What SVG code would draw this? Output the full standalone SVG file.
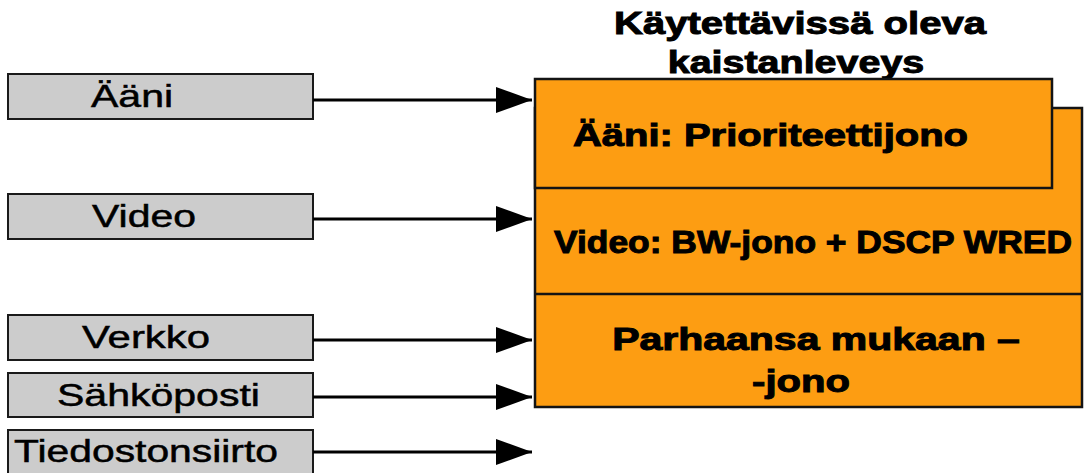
<svg xmlns="http://www.w3.org/2000/svg" width="1084" height="473" viewBox="0 0 1084 473">
<style>
.src{fill:#cccccc;stroke:#1a1a1a;stroke-width:2}
.q{fill:#fd9d12;stroke:#141414;stroke-width:2.5}
.lt{font-family:"Liberation Sans",Arial,sans-serif;font-size:32px;fill:#000;stroke:#000;stroke-width:0.5}
.bt{font-family:"Liberation Sans",Arial,sans-serif;font-size:31px;font-weight:bold;fill:#000;stroke:#000;stroke-width:1}
.ln{stroke:#000;stroke-width:3;fill:none}
</style>
<defs>
<marker id="ah" viewBox="0 0 36 26" refX="36" refY="13" markerWidth="36" markerHeight="26" markerUnits="userSpaceOnUse" orient="auto">
<path d="M0,0 L36,13 L0,26 Z" fill="#000"/>
</marker>
</defs>
<g id="title">
<text class="bt" style="font-size:32px" transform="translate(800,34) scale(1.27,1)" text-anchor="middle" textLength="293" lengthAdjust="spacingAndGlyphs">Käytettävissä oleva</text>
<text class="bt" style="font-size:32px" transform="translate(796,73) scale(1.27,1)" text-anchor="middle" textLength="202" lengthAdjust="spacingAndGlyphs">kaistanleveys</text>
</g>
<g id="queues">
<rect class="q" x="535" y="108" width="547" height="299"/>
<line x1="535" y1="294" x2="1082" y2="294" stroke="#141414" stroke-width="2.5"/>
<rect class="q" x="535" y="79" width="517" height="109"/>
<text class="bt" transform="translate(573,146) scale(1.27,1)" textLength="311" lengthAdjust="spacingAndGlyphs">Ääni: Prioriteettijono</text>
<text class="bt" x="554" y="253" textLength="518" lengthAdjust="spacingAndGlyphs">Video: BW-jono + DSCP WRED</text>
<text class="bt" transform="translate(816,350) scale(1.27,1)" text-anchor="middle" textLength="321" lengthAdjust="spacingAndGlyphs">Parhaansa mukaan –</text>
<text class="bt" transform="translate(801,392) scale(1.27,1)" text-anchor="middle" textLength="77" lengthAdjust="spacingAndGlyphs">-jono</text>
</g>
<g id="aani">
<rect class="src" x="8" y="74" width="305" height="45"/>
<text class="lt" transform="translate(91,107) scale(1.27,1)" textLength="64.6" lengthAdjust="spacingAndGlyphs">Ääni</text>
</g>
<g id="video">
<rect class="src" x="8" y="194" width="305" height="45"/>
<text class="lt" transform="translate(92,227) scale(1.27,1)" textLength="81.9" lengthAdjust="spacingAndGlyphs">Video</text>
</g>
<g id="verkko">
<rect class="src" x="8" y="315" width="305" height="45"/>
<text class="lt" transform="translate(82,348) scale(1.27,1)" textLength="100.8" lengthAdjust="spacingAndGlyphs">Verkko</text>
</g>
<g id="sahkoposti">
<rect class="src" x="8" y="373" width="305" height="44"/>
<text class="lt" transform="translate(57,406) scale(1.27,1)" textLength="159.8" lengthAdjust="spacingAndGlyphs">Sähköposti</text>
</g>
<g id="tiedostonsiirto">
<rect class="src" x="8" y="430" width="305" height="46"/>
<text class="lt" transform="translate(14,462) scale(1.27,1)" textLength="207.9" lengthAdjust="spacingAndGlyphs">Tiedostonsiirto</text>
</g>
<g id="connectors">
<line class="ln" x1="313" y1="100" x2="532" y2="100" marker-end="url(#ah)"/>
<line class="ln" x1="313" y1="219" x2="532" y2="219" marker-end="url(#ah)"/>
<line class="ln" x1="313" y1="340" x2="532" y2="340" marker-end="url(#ah)"/>
<line class="ln" x1="313" y1="397" x2="532" y2="397" marker-end="url(#ah)"/>
<line class="ln" x1="313" y1="452" x2="532" y2="452" marker-end="url(#ah)"/>
</g>
</svg>
